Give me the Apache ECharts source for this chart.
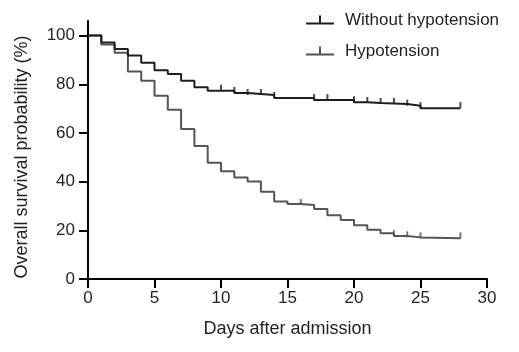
<!DOCTYPE html>
<html>
<head>
<meta charset="utf-8">
<script src="https://cdn.jsdelivr.net/npm/echarts@6/dist/echarts.min.js"></script>
<style>
html,body{margin:0;padding:0;background:#fff;}
#chart{width:519px;height:352px;}
</style>
</head>
<body>
<div id="chart"></div>
<script>
// Data (Kaplan-Meier curves)
const seriesNames = ['Without hypotension', 'Hypotension'];
const woDays = [0, 1, 2, 3, 4, 5, 6, 7, 8, 9, 11, 12, 14, 17, 20, 21, 22, 24, 25, 28];
const woSurv = [100, 97.2, 94.5, 91.8, 88.8, 85.8, 84.2, 81.5, 78.8, 77.3, 76.4, 75.6, 74.4, 73.5, 72.6, 72.3, 71.9, 71.2, 70.2, 70.2];
const woCensor = [10, 11, 12, 13, 14, 17, 18, 20, 21, 22, 23, 24, 25, 28];
const hyDays = [0, 1, 2, 3, 4, 5, 6, 7, 8, 9, 10, 11, 12, 13, 14, 15, 16, 17, 18, 19, 20, 21, 22, 23, 24, 25, 28];
const hySurv = [100, 96.3, 93, 85.3, 81.5, 75.3, 69.5, 61.6, 54.6, 47.8, 44.3, 41.7, 40.1, 35.8, 31.8, 30.8, 30.4, 28.8, 26.2, 24.2, 22.1, 20.2, 18.8, 17.7, 17.1, 16.7, 16.7];
const hyCensor = [16, 23, 24, 25, 28];
const xTicks = [0, 5, 10, 15, 20, 25, 30];
const yTicks = [0, 20, 40, 60, 80, 100];

const colors = ['#1e1e1e', '#555555'];
const textColor = '#231f20';
const font = "'Liberation Sans', Arial, sans-serif";

function pairs(days, surv) { return days.map((d, i) => [d, surv[i]]); }
function survAt(days, surv, t) {
  let v = surv[0];
  for (let i = 0; i < days.length; i++) { if (days[i] <= t) v = surv[i]; }
  return v;
}
function censorPts(cens, days, surv) { return cens.map(t => [t, survAt(days, surv, t)]); }

const iconPath = 'path://M0,8L28,8L28,10L0,10Z M13,1L15,1L15,8L13,8Z';

const chart = echarts.init(document.getElementById('chart'), null, {renderer: 'canvas'});
chart.setOption({
  animation: false,
  backgroundColor: '#ffffff',
  textStyle: {fontFamily: font, color: textColor},
  legend: {
    orient: 'vertical',
    left: 301,
    top: 5,
    itemWidth: 28,
    itemHeight: 10,
    itemGap: 11,
    textStyle: {fontSize: 17, color: textColor, fontFamily: font, lineHeight: 20, padding: [0, 0, 0, 6]},
    data: [
      {name: seriesNames[0], icon: iconPath, itemStyle: {color: colors[0]}},
      {name: seriesNames[1], icon: iconPath, itemStyle: {color: colors[1]}}
    ]
  },
  grid: {left: 88, right: 32, top: 21, bottom: 73, containLabel: false},
  xAxis: {
    type: 'value', min: 0, max: 30, interval: 5,
    name: 'Days after admission', nameLocation: 'middle', nameGap: 41,
    nameTextStyle: {fontSize: 18, color: textColor, fontFamily: font},
    axisLine: {show: true, lineStyle: {color: '#000', width: 2}},
    axisTick: {show: true, length: 9, customValues: xTicks, lineStyle: {color: '#000', width: 2}},
    axisLabel: {fontSize: 17, color: textColor, margin: 11, customValues: xTicks, fontFamily: font},
    splitLine: {show: false}
  },
  yAxis: {
    type: 'value', min: 0, max: 106,
    name: 'Overall survival probability (%)', nameLocation: 'middle', nameGap: 57,
    nameTextStyle: {fontSize: 18, color: textColor, fontFamily: font, padding: [0, 14, 0, 0]},
    axisLine: {show: true, lineStyle: {color: '#000', width: 2}},
    axisTick: {show: true, length: 9, customValues: yTicks, lineStyle: {color: '#000', width: 2}},
    axisLabel: {fontSize: 17, color: textColor, margin: 13, customValues: yTicks, fontFamily: font},
    splitLine: {show: false}
  },
  series: [
    {
      name: seriesNames[0], type: 'line', step: 'end', showSymbol: false,
      data: pairs(woDays, woSurv),
      lineStyle: {color: colors[0], width: 2}, itemStyle: {color: colors[0]}, z: 3
    },
    {
      name: seriesNames[1], type: 'line', step: 'end', showSymbol: false,
      data: pairs(hyDays, hySurv),
      lineStyle: {color: colors[1], width: 2}, itemStyle: {color: colors[1]}, z: 2
    },
    {
      name: seriesNames[0], type: 'scatter', symbol: 'rect', symbolSize: [2, 6], symbolOffset: [0, '-50%'],
      data: censorPts(woCensor, woDays, woSurv), itemStyle: {color: colors[0]}, z: 4
    },
    {
      name: seriesNames[1], type: 'scatter', symbol: 'rect', symbolSize: [2, 6], symbolOffset: [0, '-50%'],
      data: censorPts(hyCensor, hyDays, hySurv), itemStyle: {color: colors[1]}, z: 4
    }
  ]
});
</script>
</body>
</html>
